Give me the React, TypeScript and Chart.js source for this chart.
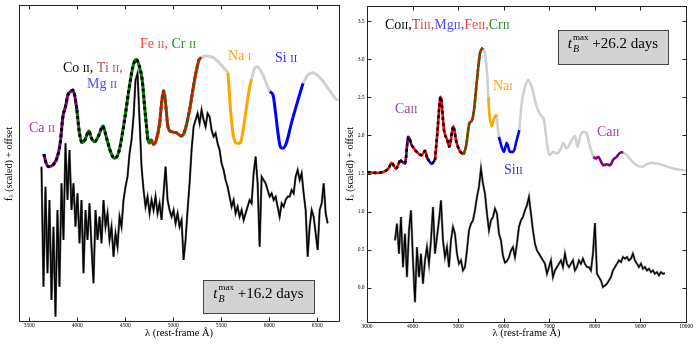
import React, { useEffect, useRef } from "react";
import { Chart, registerables } from "chart.js";
Chart.register(...registerables);

const SERIF = '"Liberation Serif", "DejaVu Serif", serif';

// ---------------- LEFT PANEL DATA (t = +16.2 d) ----------------
// model / line-identification curve
const L_MODEL_WAVE = [3653,3677,3705,3746,3788,3823,3851,3878,3903,3931,3955,3976,3997,4024,4052,4080,4122,4149,4181,4226,4267,4302,4347,4389,4434,4493,4538,4580,4615,4643,4677,4705,4736,4754,4771,4795,4823,4858,4882,4900,4917,4945,4979,5031,5084,5118,5170,5222,5268,5292,5344,5413,5483,5570,5594,5622,5650,5684,5709,5744,5778,5813,5848,5872,5917,5969,6004,6039,6066,6091,6115,6143,6177,6230,6299,6351,6403,6455,6525,6612,6699,6723];
const L_MODEL_FLUX = [501,473,463,468,488,533,613,643,678,688,693,673,633,563,535,543,570,548,538,558,585,553,508,488,508,603,693,763,785,768,723,633,543,533,543,530,543,593,663,691,663,583,568,565,555,568,633,723,783,791,795,791,773,745,643,563,535,533,543,603,673,725,758,763,748,713,688,678,623,563,523,518,533,593,663,713,738,745,731,698,665,663];
// observed spectrum (uniform wavelength grid)
const L_OBS_START = 3628;
const L_OBS_STEP = 20.84;
const L_OBS_FLUX = [463,103,403,143,363,63,283,13,333,103,413,243,533,363,513,333,413,283,383,233,363,143,333,243,353,223,113,333,243,313,233,363,283,323,243,283,193,263,223,313,283,363,403,433,503,543,613,723,743,603,463,393,343,373,323,363,333,373,323,353,303,383,463,363,333,313,333,293,323,283,303,183,243,333,413,513,583,603,623,593,633,603,583,623,613,573,553,563,533,513,473,453,423,403,373,343,363,323,343,313,333,303,323,343,363,353,443,493,413,223,433,423,413,393,373,383,363,373,343,313,353,343,363,373,373,393,383,433,453,423,443,383,333,193,283,333,313,263,213,333,353,413,323,293];
const L_X_TICKS = [3500, 4000, 4500, 5000, 5500, 6000, 6500];

// ---------------- RIGHT PANEL DATA (t = +26.2 d) ----------------
const R_MODEL_WAVE = [3007,3176,3358,3468,3541,3636,3724,3834,3907,3980,4090,4200,4273,4324,4419,4492,4543,4616,4690,4763,4807,4894,4953,5026,5114,5172,5245,5297,5348,5406,5479,5538,5589,5640,5662,5684,5736,5787,5845,5867,5896,5955,6006,6065,6138,6211,6284,6343,6394,6467,6540,6613,6723,6811,6884,6942,7001,7089,7162,7271,7308,7381,7491,7564,7623,7674,7747,7820,7893,7966,8017,8076,8127,8186,8259,8332,8405,8478,8551,8624,8698,8807,8917,9027,9136,9246,9356,9502,9649,9831,9992];
const R_MODEL_FLUX = [1.521,1.508,1.521,1.565,1.640,1.565,1.675,1.631,1.982,1.872,1.784,1.741,1.798,1.697,1.631,1.675,2.026,2.508,2.070,1.938,1.851,2.122,1.938,1.806,1.749,1.850,2.157,2.192,2.333,2.684,3.078,3.153,3.078,2.771,2.508,2.289,2.122,2.223,2.276,2.113,1.982,1.850,1.784,1.903,1.784,1.784,1.938,2.070,2.420,2.640,2.727,2.640,2.376,2.267,2.201,1.938,1.741,1.784,1.762,1.850,1.903,1.828,1.938,1.991,1.850,1.982,2.048,2.026,1.850,1.719,1.697,1.719,1.666,1.609,1.622,1.609,1.684,1.719,1.771,1.780,1.741,1.666,1.609,1.587,1.622,1.640,1.631,1.609,1.578,1.552,1.543];
const R_OBS_START = 3614;
const R_OBS_STEP = 43.88;
const R_OBS_FLUX = [0.622,0.841,0.447,0.929,0.271,0.710,0.140,0.754,1.017,0.359,-0.189,0.534,0.140,0.447,0.052,0.359,0.534,0.315,0.622,1.061,0.447,0.666,0.885,1.148,0.622,0.403,0.534,0.271,0.622,0.798,0.710,0.447,0.315,0.359,0.227,0.271,0.490,0.754,0.841,0.885,1.017,1.192,1.324,1.565,1.368,1.236,0.973,0.754,0.885,0.929,1.039,0.973,0.710,0.622,0.420,0.330,0.350,0.400,0.490,0.534,0.403,0.578,0.798,0.885,0.929,1.017,1.083,1.192,0.973,0.754,0.578,0.490,0.447,0.403,0.359,0.315,0.183,0.271,0.359,0.140,0.227,0.271,0.315,0.359,0.271,0.447,0.315,0.271,0.315,0.359,0.227,0.271,0.359,0.315,0.381,0.315,0.271,0.271,0.227,0.447,0.850,0.183,0.140,0.096,0.008,0.030,0.052,0.096,0.140,0.227,0.271,0.315,0.359,0.337,0.403,0.381,0.403,0.359,0.381,0.447,0.359,0.315,0.271,0.315,0.249,0.271,0.227,0.249,0.205,0.227,0.183,0.205,0.162,0.205,0.183,0.192];
const R_X_TICKS = [3000, 4000, 5000, 6000, 7000, 8000, 9000, 10000];
const R_Y_TICKS = [0, 0.5, 1, 1.5, 2, 2.5, 3, 3.5];
const R_Y_TICK_LABELS = ["0.0", "0.5", "1.0", "1.5", "2.0", "2.5", "3.0", "3.5"];

// ---------------- styling ----------------
type Seg = { from: number; to: number; color: string; dash?: string };
const GRAY = "#d0d0d0";
const L_SEGMENTS: Seg[] = [
  { from: 3653, to: 3997, color: "#800080", dash: "#000" },
  { from: 3997, to: 4736, color: "#008000", dash: "#000" },
  { from: 4736, to: 5292, color: "#ff0000", dash: "#008000" },
  { from: 5292, to: 5570, color: GRAY },
  { from: 5570, to: 5813, color: "#ffa500" },
  { from: 5813, to: 6004, color: GRAY },
  { from: 6004, to: 6351, color: "#0000ff" },
  { from: 6351, to: 6723, color: GRAY },
];
const R_SEGMENTS: Seg[] = [
  { from: 3007, to: 3724, color: "#ff0000", dash: "#000" },
  { from: 3724, to: 3980, color: "#800080", dash: "#000" },
  { from: 3980, to: 4324, color: "#ff0000", dash: "#000" },
  { from: 4324, to: 4492, color: "#0000ff", dash: "#000" },
  { from: 4492, to: 5114, color: "#ff0000", dash: "#000" },
  { from: 5114, to: 5538, color: "#ff0000", dash: "#008000" },
  { from: 5538, to: 5662, color: GRAY },
  { from: 5662, to: 5845, color: "#ffa500" },
  { from: 5845, to: 5896, color: GRAY },
  { from: 5896, to: 6343, color: "#0000ff" },
  { from: 6343, to: 7966, color: GRAY },
  { from: 7966, to: 8624, color: "#800080" },
  { from: 8624, to: 9992, color: GRAY },
];

const C_PURPLE = "#a03ca0";
const C_TI = "#b5524f";
const C_MG = "#4d4dff";
const C_FE = "#ff4040";
const C_CR = "#2a8a2a";
const C_NA = "#ffa500";
const C_SI = "#2b2bff";

type Run = { t: string; c: string; s?: number; dy?: number; italic?: boolean };
type Label = { x: number; y: number; runs: Run[]; size: number };
interface Decor {
  offset: number;
  xTicks: number[];
  xTickLabels: string[];
  yTicks: number[];
  yTickLabels: string[];
  xTitleY: number;
  yTitle: { x: number; y: number };
  labels: Label[];
  box: { l: number; t: number; r: number; b: number; days: string; baseline: number };
}

const ion = (el: string, st: string, c: string, tail = ""): Run[] => {
  const r: Run[] = [{ t: el, c }, { t: st, c, s: 0.75 }];
  if (tail) r.push({ t: tail, c });
  return r;
};

const L_LABELS: Label[] = [
  { x: 29, y: 132, size: 14, runs: ion("Ca ", "II", C_PURPLE) },
  { x: 63, y: 72, size: 14, runs: [...ion("Co ", "II", "#000", ", "), ...ion("Ti ", "II", C_TI, ",")] },
  { x: 87, y: 88, size: 14, runs: ion("Mg ", "II", C_MG) },
  { x: 140, y: 48, size: 14, runs: [...ion("Fe ", "II", C_FE, ", "), ...ion("Cr ", "II", C_CR)] },
  { x: 228, y: 60, size: 14, runs: ion("Na ", "I", C_NA) },
  { x: 275, y: 62, size: 14, runs: ion("Si ", "II", C_SI) },
];
const R_LABELS: Label[] = [
  {
    x: 385, y: 29, size: 14,
    runs: [
      ...ion("Co", "II", "#000", ","), ...ion("Ti", "II", C_TI, ","), ...ion("Mg", "II", C_MG, ","),
      ...ion("Fe", "II", C_FE, ","), ...ion("Cr", "II", C_CR),
    ],
  },
  { x: 395, y: 113, size: 14, runs: ion("Ca", "II", C_PURPLE) },
  { x: 493, y: 90, size: 14, runs: ion("Na", "I", C_NA) },
  { x: 504, y: 174, size: 14, runs: ion("Si", "II", C_SI) },
  { x: 597, y: 136, size: 14, runs: ion("Ca", "II", C_PURPLE) },
];

function runsWidth(ctx: CanvasRenderingContext2D, runs: Run[], size: number) {
  let w = 0;
  for (const r of runs) {
    ctx.font = `${r.italic ? "italic " : ""}${size * (r.s ?? 1)}px ${SERIF}`;
    w += ctx.measureText(r.t).width;
  }
  return w;
}
function drawRuns(ctx: CanvasRenderingContext2D, runs: Run[], x: number, y: number, size: number) {
  let cx = x;
  for (const r of runs) {
    ctx.font = `${r.italic ? "italic " : ""}${size * (r.s ?? 1)}px ${SERIF}`;
    ctx.fillStyle = r.c;
    ctx.fillText(r.t, cx, y + (r.dy ?? 0));
    cx += ctx.measureText(r.t).width;
  }
}

function makeDecor(d: Decor) {
  return {
    id: "decor",
    afterDatasetsDraw(chart: any) {
      const ctx: CanvasRenderingContext2D = chart.ctx;
      const a = chart.chartArea;
      const xs = chart.scales.x;
      const ys = chart.scales.y;
      const o = d.offset;
      ctx.save();
      // labels
      ctx.textAlign = "left";
      ctx.textBaseline = "alphabetic";
      for (const l of d.labels) drawRuns(ctx, l.runs, l.x - o, l.y, l.size);
      // box
      const b = d.box;
      ctx.fillStyle = "#d3d3d3";
      ctx.strokeStyle = "#444";
      ctx.lineWidth = 1;
      ctx.fillRect(b.l - o, b.t, b.r - b.l, b.b - b.t);
      ctx.strokeRect(b.l - o + 0.5, b.t + 0.5, b.r - b.l, b.b - b.t);
      {
        const big = 15;
        ctx.font = `italic ${big}px ${SERIF}`;
        const wt = ctx.measureText("t").width;
        ctx.font = `italic 10px ${SERIF}`;
        const wb = ctx.measureText("B").width;
        ctx.font = `9px ${SERIF}`;
        const wm = ctx.measureText("max").width;
        const ws = Math.max(wb, wm);
        const rest = " +" + b.days + " days";
        ctx.font = `${big}px ${SERIF}`;
        const wr = ctx.measureText(rest).width;
        const total = wt + 1 + ws + wr;
        let x = (b.l + b.r) / 2 - o - total / 2;
        const y = b.baseline;
        ctx.fillStyle = "#000";
        ctx.font = `italic ${big}px ${SERIF}`;
        ctx.fillText("t", x, y);
        x += wt + 1;
        ctx.font = `italic 10px ${SERIF}`;
        ctx.fillText("B", x, y + 4);
        ctx.font = `9px ${SERIF}`;
        ctx.fillText("max", x, y - 8);
        x += ws;
        ctx.font = `${big}px ${SERIF}`;
        ctx.fillText(rest, x, y);
      }
      // frame
      ctx.strokeStyle = "#222";
      ctx.lineWidth = 1;
      const L = Math.floor(a.left) + 0.5, T = Math.floor(a.top) + 0.5;
      const R = Math.floor(a.right) + 0.5, B = Math.floor(a.bottom) + 0.5;
      ctx.strokeRect(L, T, R - L, B - T);
      // ticks
      ctx.beginPath();
      for (const v of d.xTicks) {
        const px = Math.round(xs.getPixelForValue(v)) + 0.5;
        ctx.moveTo(px, B); ctx.lineTo(px, B - 4);
        ctx.moveTo(px, T); ctx.lineTo(px, T + 4);
      }
      for (const v of d.yTicks) {
        const py = Math.round(ys.getPixelForValue(v)) + 0.5;
        ctx.moveTo(L, py); ctx.lineTo(L + 4, py);
        ctx.moveTo(R, py); ctx.lineTo(R - 4, py);
      }
      ctx.stroke();
      // tick labels
      ctx.fillStyle = "#000";
      ctx.font = `5.5px ${SERIF}`;
      ctx.textAlign = "center";
      ctx.textBaseline = "middle";
      d.xTicks.forEach((v, i) => ctx.fillText(d.xTickLabels[i], xs.getPixelForValue(v), B + 4));
      ctx.textAlign = "right";
      d.yTicks.forEach((v, i) => ctx.fillText(d.yTickLabels[i], L - 3, ys.getPixelForValue(v)));
      // axis titles
      ctx.textAlign = "center";
      ctx.font = `10.5px ${SERIF}`;
      ctx.fillText("\u03bb (rest-frame \u00c5)", (a.left + a.right) / 2, d.xTitleY);
      ctx.save();
      ctx.translate(d.yTitle.x - o, d.yTitle.y);
      ctx.rotate(-Math.PI / 2);
      const yRuns: Run[] = [
        { t: "f", c: "#000" },
        { t: "\u03bb", c: "#000", s: 0.7, dy: 2 },
        { t: " (scaled) + offset", c: "#000" },
      ];
      ctx.textAlign = "left";
      ctx.textBaseline = "middle";
      const w = runsWidth(ctx, yRuns, 10);
      drawRuns(ctx, yRuns, -w / 2, 0, 10);
      ctx.restore();
      ctx.restore();
    },
  };
}

function seg(wave: number[], flux: number[], from: number, to: number) {
  const out: { x: number; y: number }[] = [];
  wave.forEach((w, i) => {
    if (w >= from && w <= to) out.push({ x: w, y: flux[i] });
  });
  return out;
}
function grid(start: number, step: number, flux: number[]) {
  return flux.map((f, i) => ({ x: start + i * step, y: f }));
}

function modelDatasets(wave: number[], flux: number[], segs: Seg[], width: number) {
  const ds: any[] = [];
  for (const s of segs) {
    const data = seg(wave, flux, s.from, s.to);
    ds.push({
      data, borderColor: s.color, borderWidth: width, pointRadius: 0,
      cubicInterpolationMode: "monotone", order: s.color === GRAY ? 4 : 3,
    });
    if (s.dash) {
      ds.push({
        data, borderColor: s.dash, borderWidth: width, pointRadius: 0, borderDash: [3, 3],
        cubicInterpolationMode: "monotone", order: 2,
      });
    }
  }
  return ds;
}

function leftConfig(): any {
  const obs = grid(L_OBS_START, L_OBS_STEP, L_OBS_FLUX);
  const datasets = [
    { data: obs, borderColor: "#666", borderWidth: 2.2, pointRadius: 0, tension: 0, order: 6 },
    { data: obs, borderColor: "#000", borderWidth: 1.3, pointRadius: 0, tension: 0, order: 5 },
    ...modelDatasets(L_MODEL_WAVE, L_MODEL_FLUX, L_SEGMENTS, 3),
  ];
  const decor: Decor = {
    offset: 0,
    xTicks: L_X_TICKS,
    xTickLabels: L_X_TICKS.map(String),
    yTicks: [],
    yTickLabels: [],
    xTitleY: 333,
    yTitle: { x: 9, y: 164 },
    labels: L_LABELS,
    box: { l: 203, t: 280, r: 314, b: 313, days: "16.2", baseline: 298 },
  };
  return {
    type: "line",
    data: { datasets },
    options: {
      animation: false, responsive: false, devicePixelRatio: 1, events: [],
      layout: { padding: { left: 19, right: 11, top: 5, bottom: 29 } },
      plugins: { legend: { display: false }, tooltip: { enabled: false }, title: { display: false } },
      scales: {
        x: { type: "linear", min: 3394, max: 6726, display: false },
        y: { type: "linear", min: 0, max: 948, display: false },
      },
    },
    plugins: [makeDecor(decor)],
  };
}

function rightConfig(): any {
  const obs = grid(R_OBS_START, R_OBS_STEP, R_OBS_FLUX);
  const datasets = [
    { data: obs, borderColor: "#888", borderWidth: 2.4, pointRadius: 0, tension: 0, order: 6 },
    { data: obs, borderColor: "#000", borderWidth: 1.3, pointRadius: 0, tension: 0, order: 5 },
    ...modelDatasets(R_MODEL_WAVE, R_MODEL_FLUX, R_SEGMENTS, 2.6),
  ];
  const decor: Decor = {
    offset: 340,
    xTicks: R_X_TICKS,
    xTickLabels: R_X_TICKS.map(String),
    yTicks: R_Y_TICKS,
    yTickLabels: R_Y_TICK_LABELS,
    xTitleY: 333,
    yTitle: { x: 350, y: 164 },
    labels: R_LABELS,
    box: { l: 558, t: 30, r: 668, b: 64, days: "26.2", baseline: 48 },
  };
  return {
    type: "line",
    data: { datasets },
    options: {
      animation: false, responsive: false, devicePixelRatio: 1, events: [],
      layout: { padding: { left: 27, right: 14, top: 6, bottom: 28 } },
      plugins: { legend: { display: false }, tooltip: { enabled: false }, title: { display: false } },
      scales: {
        x: { type: "linear", min: 3000, max: 10000, display: false },
        y: { type: "linear", min: -0.45, max: 3.7, display: false },
      },
    },
    plugins: [makeDecor(decor)],
  };
}

function Panel({ left, width, config }: { left: number; width: number; config: () => any }) {
  const ref = useRef<HTMLCanvasElement>(null);
  useEffect(() => {
    const chart = new Chart(ref.current as HTMLCanvasElement, config());
    return () => chart.destroy();
  }, []);
  return (
    <canvas
      ref={ref}
      width={width}
      height={350}
      style={{ position: "absolute", left, top: 0, width, height: 350 }}
    />
  );
}

export default function App() {
  return (
    <div style={{ position: "absolute", left: 0, top: 0, width: 700, height: 350, background: "#fff" }}>
      <Panel left={0} width={350} config={leftConfig} />
      <Panel left={340} width={360} config={rightConfig} />
    </div>
  );
}
